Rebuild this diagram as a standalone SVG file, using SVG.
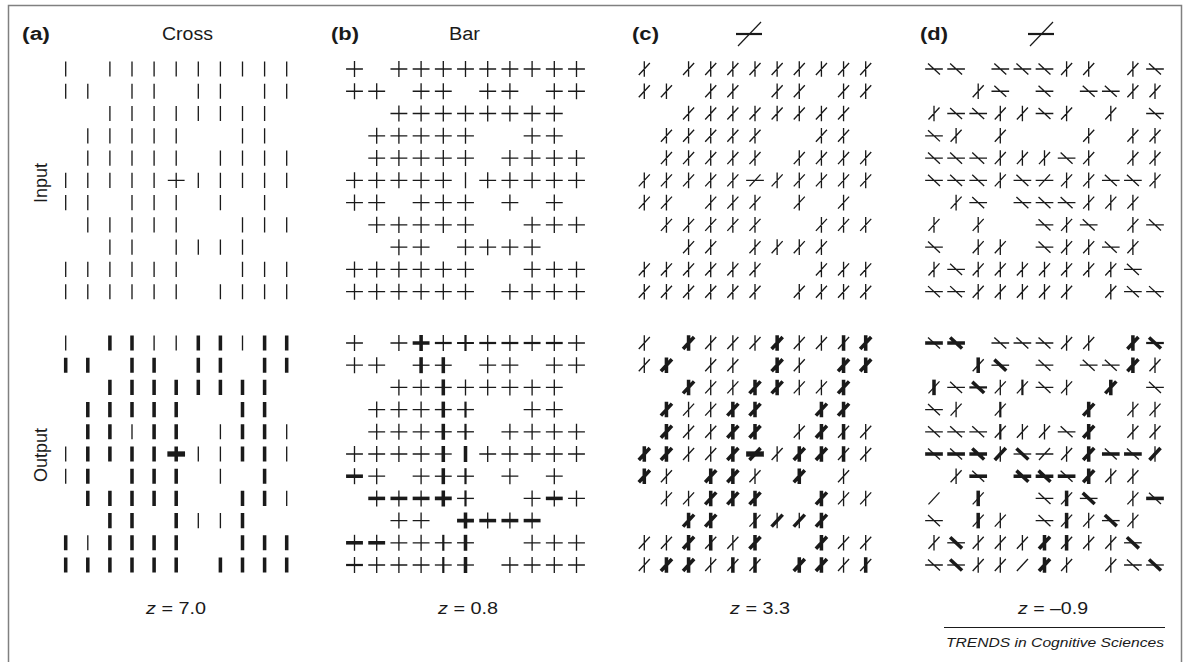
<svg xmlns="http://www.w3.org/2000/svg" width="1189" height="662" viewBox="0 0 1189 662">
<style>
.gl{fill:none;stroke:#1a1a1a;stroke-linecap:butt}
.t{stroke-width:.06}
.m{stroke-width:.1}
.k{stroke-width:.16}
.x{stroke-width:.24}
.lab{font-family:"Liberation Sans",Arial,Helvetica,sans-serif;fill:#1a1a1a}
.hd{font-size:18px}
.b{font-weight:bold}
.z{font-size:17px}
</style>
<defs>
<path id="bv" d="M0-.36V.36"/>
<path id="bh" d="M-.38 0H.38"/>
<path id="bc" d="M0-.36V.36M-.38 0H.38"/>
<path id="cv" d="M0-.35V.35"/>
<path id="ch" d="M-.4 0H.4"/>
<path id="cp" d="M-.25.27L.25-.27"/>
<path id="cq" d="M-.27-.25L.27.25"/>
<path id="V" d="M0-.35V.35M-.25.27L.25-.27"/>
<path id="H" d="M-.4 0H.4M-.27-.25L.27.25"/>
<path id="T" d="M-.4 0H.4M-.25.27L.25-.27"/>
</defs>
<rect width="1189" height="662" fill="#fff"/>
<path id="frame" d="M8.5 662V5.5H1181.5V662" fill="none" stroke="#808080" stroke-width="1.5"/>

<g id="labels" class="lab">
<text class="hd b" x="22" y="40" textLength="28" lengthAdjust="spacingAndGlyphs">(a)</text>
<text class="hd" x="162" y="40" textLength="51" lengthAdjust="spacingAndGlyphs">Cross</text>
<text class="hd b" x="331" y="40" textLength="28" lengthAdjust="spacingAndGlyphs">(b)</text>
<text class="hd" x="449" y="40" textLength="31" lengthAdjust="spacingAndGlyphs">Bar</text>
<text class="hd b" x="632" y="40" textLength="27" lengthAdjust="spacingAndGlyphs">(c)</text>
<text class="hd b" x="920" y="40" textLength="28" lengthAdjust="spacingAndGlyphs">(d)</text>
<text class="hd" transform="translate(47,183) rotate(-90)" text-anchor="middle">Input</text>
<text class="hd" transform="translate(47,455) rotate(-90)" text-anchor="middle">Output</text>
<text class="z" x="176" y="614" text-anchor="middle" textLength="60" lengthAdjust="spacingAndGlyphs"><tspan font-style="italic">z</tspan> = 7.0</text>
<text class="z" x="468" y="614" text-anchor="middle" textLength="60" lengthAdjust="spacingAndGlyphs"><tspan font-style="italic">z</tspan> = 0.8</text>
<text class="z" x="760" y="614" text-anchor="middle" textLength="60" lengthAdjust="spacingAndGlyphs"><tspan font-style="italic">z</tspan> = 3.3</text>
<text class="z" x="1053" y="614" text-anchor="middle" textLength="70" lengthAdjust="spacingAndGlyphs"><tspan font-style="italic">z</tspan> = –0.9</text>
<text x="1164" y="647" text-anchor="end" font-size="13" font-style="italic" textLength="218" lengthAdjust="spacingAndGlyphs">TRENDS in Cognitive Sciences</text>
</g>
<path id="source-rule" d="M944 627.5H1165" stroke="#1a1a1a" stroke-width="1"/>

<g id="target-c" fill="none" stroke="#1a1a1a" transform="translate(749,34)"><path d="M-13 0H13" stroke-width="2.2"/><path d="M-11 12L12-12" stroke-width="1.2"/></g>
<g id="target-d" fill="none" stroke="#1a1a1a" transform="translate(1041,34)"><path d="M-13 0H13" stroke-width="2.2"/><path d="M-11 12L12-12" stroke-width="1.2"/></g>

<!-- Panel (a) -->
<g id="panel-a-input" class="gl t" transform="translate(65.7,69) scale(22.1,22.27)">
<path d="M0-.34v.68M2-.34v.68M3-.34v.68M4-.34v.68M5-.34v.68M6-.34v.68M7-.34v.68M8-.34v.68M9-.34v.68M10-.34v.68M0 .66v.68M1 .66v.68M3 .66v.68M4 .66v.68M6 .66v.68M7 .66v.68M9 .66v.68M10 .66v.68M2 1.66v.68M3 1.66v.68M4 1.66v.68M5 1.66v.68M6 1.66v.68M7 1.66v.68M8 1.66v.68M9 1.66v.68M1 2.66v.68M2 2.66v.68M3 2.66v.68M4 2.66v.68M5 2.66v.68M8 2.66v.68M9 2.66v.68M1 3.66v.68M2 3.66v.68M3 3.66v.68M4 3.66v.68M5 3.66v.68M7 3.66v.68M8 3.66v.68M9 3.66v.68M10 3.66v.68M0 4.66v.68M1 4.66v.68M2 4.66v.68M3 4.66v.68M4 4.66v.68M5 4.66v.68M6 4.66v.68M7 4.66v.68M8 4.66v.68M9 4.66v.68M10 4.66v.68M4.62 5h.76M0 5.66v.68M1 5.66v.68M3 5.66v.68M4 5.66v.68M5 5.66v.68M7 5.66v.68M9 5.66v.68M1 6.66v.68M2 6.66v.68M3 6.66v.68M4 6.66v.68M5 6.66v.68M8 6.66v.68M9 6.66v.68M10 6.66v.68M2 7.66v.68M3 7.66v.68M5 7.66v.68M6 7.66v.68M7 7.66v.68M8 7.66v.68M0 8.66v.68M1 8.66v.68M2 8.66v.68M3 8.66v.68M4 8.66v.68M5 8.66v.68M8 8.66v.68M9 8.66v.68M10 8.66v.68M0 9.66v.68M1 9.66v.68M2 9.66v.68M3 9.66v.68M4 9.66v.68M5 9.66v.68M7 9.66v.68M8 9.66v.68M9 9.66v.68M10 9.66v.68"/>
</g>
<g id="panel-a-output" class="gl" transform="translate(65.7,343) scale(22.1,22.2)">
<path class="t" d="M0-.34v.68M4-.34v.68M5-.34v.68M8-.34v.68M3 3.66v.68M7 3.66v.68M10 3.66v.68M0 4.66v.68M6 4.66v.68M7 4.66v.68M10 4.66v.68M0 5.66v.68M7 5.66v.68M10 6.66v.68M6 7.66v.68M7 7.66v.68M1 8.66v.68"/>
<path class="k" d="M2-.34v.68M3-.34v.68M6-.34v.68M7-.34v.68M9-.34v.68M10-.34v.68M0 .66v.68M1 .66v.68M3 .66v.68M4 .66v.68M6 .66v.68M7 .66v.68M9 .66v.68M10 .66v.68M2 1.66v.68M3 1.66v.68M4 1.66v.68M5 1.66v.68M6 1.66v.68M7 1.66v.68M8 1.66v.68M9 1.66v.68M1 2.66v.68M2 2.66v.68M3 2.66v.68M4 2.66v.68M5 2.66v.68M8 2.66v.68M9 2.66v.68M1 3.66v.68M2 3.66v.68M4 3.66v.68M5 3.66v.68M8 3.66v.68M9 3.66v.68M1 4.66v.68M2 4.66v.68M3 4.66v.68M4 4.66v.68M5 4.66v.68M8 4.66v.68M9 4.66v.68M1 5.66v.68M3 5.66v.68M4 5.66v.68M5 5.66v.68M9 5.66v.68M1 6.66v.68M2 6.66v.68M3 6.66v.68M4 6.66v.68M5 6.66v.68M8 6.66v.68M9 6.66v.68M2 7.66v.68M3 7.66v.68M5 7.66v.68M8 7.66v.68M0 8.66v.68M2 8.66v.68M3 8.66v.68M4 8.66v.68M5 8.66v.68M8 8.66v.68M9 8.66v.68M10 8.66v.68M0 9.66v.68M1 9.66v.68M2 9.66v.68M3 9.66v.68M4 9.66v.68M5 9.66v.68M7 9.66v.68M8 9.66v.68M9 9.66v.68M10 9.66v.68"/>
<path class="x" d="M4.6 5h.8"/>
</g>

<!-- Panel (b) -->
<g id="panel-b-input" class="gl t" transform="translate(354.5,69) scale(22.2,22.27)">
<path d="M0-.36v.72m-.38-.36h.76M2-.36v.72m-.38-.36h.76M3-.36v.72m-.38-.36h.76M4-.36v.72m-.38-.36h.76M5-.36v.72m-.38-.36h.76M6-.36v.72m-.38-.36h.76M7-.36v.72m-.38-.36h.76M8-.36v.72m-.38-.36h.76M9-.36v.72m-.38-.36h.76M10-.36v.72m-.38-.36h.76
M0 .64v.72m-.38-.36h.76M1 .64v.72m-.38-.36h.76M3 .64v.72m-.38-.36h.76M4 .64v.72m-.38-.36h.76M6 .64v.72m-.38-.36h.76M7 .64v.72m-.38-.36h.76M9 .64v.72m-.38-.36h.76M10 .64v.72m-.38-.36h.76
M2 1.64v.72m-.38-.36h.76M3 1.64v.72m-.38-.36h.76M4 1.64v.72m-.38-.36h.76M5 1.64v.72m-.38-.36h.76M6 1.64v.72m-.38-.36h.76M7 1.64v.72m-.38-.36h.76M8 1.64v.72m-.38-.36h.76M9 1.64v.72m-.38-.36h.76
M1 2.64v.72m-.38-.36h.76M2 2.64v.72m-.38-.36h.76M3 2.64v.72m-.38-.36h.76M4 2.64v.72m-.38-.36h.76M5 2.64v.72m-.38-.36h.76M8 2.64v.72m-.38-.36h.76M9 2.64v.72m-.38-.36h.76
M1 3.64v.72m-.38-.36h.76M2 3.64v.72m-.38-.36h.76M3 3.64v.72m-.38-.36h.76M4 3.64v.72m-.38-.36h.76M5 3.64v.72m-.38-.36h.76M7 3.64v.72m-.38-.36h.76M8 3.64v.72m-.38-.36h.76M9 3.64v.72m-.38-.36h.76M10 3.64v.72m-.38-.36h.76
M0 4.64v.72m-.38-.36h.76M1 4.64v.72m-.38-.36h.76M2 4.64v.72m-.38-.36h.76M3 4.64v.72m-.38-.36h.76M4 4.64v.72m-.38-.36h.76M5 4.64v.72M6 4.64v.72m-.38-.36h.76M7 4.64v.72m-.38-.36h.76M8 4.64v.72m-.38-.36h.76M9 4.64v.72m-.38-.36h.76M10 4.64v.72m-.38-.36h.76
M0 5.64v.72m-.38-.36h.76M1 5.64v.72m-.38-.36h.76M3 5.64v.72m-.38-.36h.76M4 5.64v.72m-.38-.36h.76M5 5.64v.72m-.38-.36h.76M7 5.64v.72m-.38-.36h.76M9 5.64v.72m-.38-.36h.76
M1 6.64v.72m-.38-.36h.76M2 6.64v.72m-.38-.36h.76M3 6.64v.72m-.38-.36h.76M4 6.64v.72m-.38-.36h.76M5 6.64v.72m-.38-.36h.76M8 6.64v.72m-.38-.36h.76M9 6.64v.72m-.38-.36h.76M10 6.64v.72m-.38-.36h.76
M2 7.64v.72m-.38-.36h.76M3 7.64v.72m-.38-.36h.76M5 7.64v.72m-.38-.36h.76M6 7.64v.72m-.38-.36h.76M7 7.64v.72m-.38-.36h.76M8 7.64v.72m-.38-.36h.76
M0 8.64v.72m-.38-.36h.76M1 8.64v.72m-.38-.36h.76M2 8.64v.72m-.38-.36h.76M3 8.64v.72m-.38-.36h.76M4 8.64v.72m-.38-.36h.76M5 8.64v.72m-.38-.36h.76M8 8.64v.72m-.38-.36h.76M9 8.64v.72m-.38-.36h.76M10 8.64v.72m-.38-.36h.76
M0 9.64v.72m-.38-.36h.76M1 9.64v.72m-.38-.36h.76M2 9.64v.72m-.38-.36h.76M3 9.64v.72m-.38-.36h.76M4 9.64v.72m-.38-.36h.76M5 9.64v.72m-.38-.36h.76M7 9.64v.72m-.38-.36h.76M8 9.64v.72m-.38-.36h.76M9 9.64v.72m-.38-.36h.76M10 9.64v.72m-.38-.36h.76"/>
</g>
<g id="panel-b-output" class="gl t" transform="translate(354.5,343) scale(22.2,22.2)">
<g><use href="#bc" x="0"/><use href="#bc" x="2"/><use href="#bc" x="3" class="k"/><use href="#bh" x="4" class="m"/><use href="#bv" x="4"/><use href="#bc" x="5" class="m"/><use href="#bh" x="6" class="m"/><use href="#bv" x="6"/><use href="#bh" x="7" class="m"/><use href="#bv" x="7"/><use href="#bh" x="8" class="m"/><use href="#bv" x="8"/><use href="#bh" x="9" class="m"/><use href="#bv" x="9"/><use href="#bc" x="10"/></g>
<g transform="translate(0,1)"><use href="#bc" x="0"/><use href="#bc" x="1"/><use href="#bh" x="3"/><use href="#bv" x="3" class="k"/><use href="#bh" x="4"/><use href="#bv" x="4" class="k"/><use href="#bc" x="6"/><use href="#bc" x="7"/><use href="#bc" x="9"/><use href="#bc" x="10"/></g>
<g transform="translate(0,2)"><use href="#bc" x="2"/><use href="#bc" x="3"/><use href="#bh" x="4"/><use href="#bv" x="4" class="k"/><use href="#bc" x="5"/><use href="#bc" x="6"/><use href="#bc" x="7"/><use href="#bc" x="8"/><use href="#bc" x="9"/></g>
<g transform="translate(0,3)"><use href="#bc" x="1"/><use href="#bc" x="2"/><use href="#bc" x="3"/><use href="#bh" x="4"/><use href="#bv" x="4" class="k"/><use href="#bh" x="5"/><use href="#bv" x="5" class="m"/><use href="#bc" x="8"/><use href="#bc" x="9"/></g>
<g transform="translate(0,4)"><use href="#bc" x="1"/><use href="#bc" x="2"/><use href="#bc" x="3"/><use href="#bh" x="4"/><use href="#bv" x="4" class="k"/><use href="#bh" x="5"/><use href="#bv" x="5" class="m"/><use href="#bc" x="7"/><use href="#bc" x="8"/><use href="#bc" x="9"/><use href="#bc" x="10"/></g>
<g transform="translate(0,5)"><use href="#bc" x="0"/><use href="#bc" x="1"/><use href="#bc" x="2"/><use href="#bc" x="3"/><use href="#bh" x="4"/><use href="#bv" x="4" class="k"/><use href="#bv" x="5" class="k"/><use href="#bc" x="6"/><use href="#bc" x="7"/><use href="#bc" x="8"/><use href="#bc" x="9"/><use href="#bc" x="10"/></g>
<g transform="translate(0,6)"><use href="#bh" x="0" class="k"/><use href="#bv" x="0"/><use href="#bc" x="1"/><use href="#bc" x="3"/><use href="#bh" x="4"/><use href="#bv" x="4" class="k"/><use href="#bh" x="5"/><use href="#bv" x="5" class="m"/><use href="#bc" x="7"/><use href="#bc" x="9"/></g>
<g transform="translate(0,7)"><use href="#bh" x="1" class="k"/><use href="#bv" x="1"/><use href="#bh" x="2" class="k"/><use href="#bv" x="2"/><use href="#bh" x="3" class="k"/><use href="#bv" x="3"/><use href="#bc" x="4" class="k"/><use href="#bh" x="5"/><use href="#bv" x="5" class="m"/><use href="#bc" x="8"/><use href="#bh" x="9" class="k"/><use href="#bv" x="9"/><use href="#bc" x="10"/></g>
<g transform="translate(0,8)"><use href="#bc" x="2"/><use href="#bc" x="3"/><use href="#bc" x="5" class="k"/><use href="#bh" x="6" class="k"/><use href="#bv" x="6"/><use href="#bh" x="7" class="k"/><use href="#bv" x="7"/><use href="#bh" x="8" class="k"/><use href="#bv" x="8"/></g>
<g transform="translate(0,9)"><use href="#bh" x="0" class="k"/><use href="#bv" x="0"/><use href="#bh" x="1" class="k"/><use href="#bv" x="1"/><use href="#bc" x="2"/><use href="#bc" x="3"/><use href="#bh" x="4"/><use href="#bv" x="4" class="m"/><use href="#bh" x="5"/><use href="#bv" x="5" class="k"/><use href="#bc" x="8"/><use href="#bc" x="9"/><use href="#bc" x="10"/></g>
<g transform="translate(0,10)"><use href="#bh" x="0" class="m"/><use href="#bv" x="0"/><use href="#bc" x="1"/><use href="#bc" x="2"/><use href="#bc" x="3"/><use href="#bh" x="4"/><use href="#bv" x="4" class="m"/><use href="#bh" x="5"/><use href="#bv" x="5" class="k"/><use href="#bc" x="7"/><use href="#bc" x="8"/><use href="#bc" x="9"/><use href="#bc" x="10"/></g>
</g>

<!-- Panel (c) -->
<g id="panel-c-input" class="gl t" transform="translate(644.3,69) scale(22.14,22.27)">
<path d="M0-.35v.7m-.25-.08l.5-.54M2-.35v.7m-.25-.08l.5-.54M3-.35v.7m-.25-.08l.5-.54M4-.35v.7m-.25-.08l.5-.54M5-.35v.7m-.25-.08l.5-.54M6-.35v.7m-.25-.08l.5-.54M7-.35v.7m-.25-.08l.5-.54M8-.35v.7m-.25-.08l.5-.54M9-.35v.7m-.25-.08l.5-.54M10-.35v.7m-.25-.08l.5-.54
M0 .65v.7m-.25-.08l.5-.54M1 .65v.7m-.25-.08l.5-.54M3 .65v.7m-.25-.08l.5-.54M4 .65v.7m-.25-.08l.5-.54M6 .65v.7m-.25-.08l.5-.54M7 .65v.7m-.25-.08l.5-.54M9 .65v.7m-.25-.08l.5-.54M10 .65v.7m-.25-.08l.5-.54
M2 1.65v.7m-.25-.08l.5-.54M3 1.65v.7m-.25-.08l.5-.54M4 1.65v.7m-.25-.08l.5-.54M5 1.65v.7m-.25-.08l.5-.54M6 1.65v.7m-.25-.08l.5-.54M7 1.65v.7m-.25-.08l.5-.54M8 1.65v.7m-.25-.08l.5-.54M9 1.65v.7m-.25-.08l.5-.54
M1 2.65v.7m-.25-.08l.5-.54M2 2.65v.7m-.25-.08l.5-.54M3 2.65v.7m-.25-.08l.5-.54M4 2.65v.7m-.25-.08l.5-.54M5 2.65v.7m-.25-.08l.5-.54M8 2.65v.7m-.25-.08l.5-.54M9 2.65v.7m-.25-.08l.5-.54
M1 3.65v.7m-.25-.08l.5-.54M2 3.65v.7m-.25-.08l.5-.54M3 3.65v.7m-.25-.08l.5-.54M4 3.65v.7m-.25-.08l.5-.54M5 3.65v.7m-.25-.08l.5-.54M7 3.65v.7m-.25-.08l.5-.54M8 3.65v.7m-.25-.08l.5-.54M9 3.65v.7m-.25-.08l.5-.54M10 3.65v.7m-.25-.08l.5-.54
M0 4.65v.7m-.25-.08l.5-.54M1 4.65v.7m-.25-.08l.5-.54M2 4.65v.7m-.25-.08l.5-.54M3 4.65v.7m-.25-.08l.5-.54M4 4.65v.7m-.25-.08l.5-.54M4.6 5h.8M4.75 5.27l.5-.54M6 4.65v.7m-.25-.08l.5-.54M7 4.65v.7m-.25-.08l.5-.54M8 4.65v.7m-.25-.08l.5-.54M9 4.65v.7m-.25-.08l.5-.54M10 4.65v.7m-.25-.08l.5-.54
M0 5.65v.7m-.25-.08l.5-.54M1 5.65v.7m-.25-.08l.5-.54M3 5.65v.7m-.25-.08l.5-.54M4 5.65v.7m-.25-.08l.5-.54M5 5.65v.7m-.25-.08l.5-.54M7 5.65v.7m-.25-.08l.5-.54M9 5.65v.7m-.25-.08l.5-.54
M1 6.65v.7m-.25-.08l.5-.54M2 6.65v.7m-.25-.08l.5-.54M3 6.65v.7m-.25-.08l.5-.54M4 6.65v.7m-.25-.08l.5-.54M5 6.65v.7m-.25-.08l.5-.54M8 6.65v.7m-.25-.08l.5-.54M9 6.65v.7m-.25-.08l.5-.54M10 6.65v.7m-.25-.08l.5-.54
M2 7.65v.7m-.25-.08l.5-.54M3 7.65v.7m-.25-.08l.5-.54M5 7.65v.7m-.25-.08l.5-.54M6 7.65v.7m-.25-.08l.5-.54M7 7.65v.7m-.25-.08l.5-.54M8 7.65v.7m-.25-.08l.5-.54
M0 8.65v.7m-.25-.08l.5-.54M1 8.65v.7m-.25-.08l.5-.54M2 8.65v.7m-.25-.08l.5-.54M3 8.65v.7m-.25-.08l.5-.54M4 8.65v.7m-.25-.08l.5-.54M5 8.65v.7m-.25-.08l.5-.54M8 8.65v.7m-.25-.08l.5-.54M9 8.65v.7m-.25-.08l.5-.54M10 8.65v.7m-.25-.08l.5-.54
M0 9.65v.7m-.25-.08l.5-.54M1 9.65v.7m-.25-.08l.5-.54M2 9.65v.7m-.25-.08l.5-.54M3 9.65v.7m-.25-.08l.5-.54M4 9.65v.7m-.25-.08l.5-.54M5 9.65v.7m-.25-.08l.5-.54M7 9.65v.7m-.25-.08l.5-.54M8 9.65v.7m-.25-.08l.5-.54M9 9.65v.7m-.25-.08l.5-.54M10 9.65v.7m-.25-.08l.5-.54"/>
</g>
<g id="panel-c-output" class="gl t" transform="translate(644.3,343) scale(22.14,22.2)">
<g><use href="#V" x="0"/><use href="#V" x="2" class="k"/><use href="#V" x="3"/><use href="#V" x="4"/><use href="#V" x="5"/><use href="#V" x="6" class="k"/><use href="#V" x="7"/><use href="#V" x="8"/><use href="#cv" x="9" class="k"/><use href="#cp" x="9"/><use href="#V" x="10" class="k"/></g>
<g transform="translate(0,1)"><use href="#V" x="0"/><use href="#V" x="1" class="k"/><use href="#V" x="3"/><use href="#V" x="4"/><use href="#V" x="6" class="k"/><use href="#V" x="7"/><use href="#V" x="9" class="k"/><use href="#V" x="10" class="k"/></g>
<g transform="translate(0,2)"><use href="#V" x="2" class="k"/><use href="#V" x="3"/><use href="#V" x="4"/><use href="#V" x="5" class="k"/><use href="#V" x="6" class="k"/><use href="#V" x="7"/><use href="#V" x="8"/><use href="#V" x="9" class="k"/></g>
<g transform="translate(0,3)"><use href="#V" x="1" class="k"/><use href="#V" x="2"/><use href="#V" x="3"/><use href="#V" x="4" class="k"/><use href="#V" x="5" class="k"/><use href="#V" x="8" class="k"/><use href="#V" x="9" class="k"/></g>
<g transform="translate(0,4)"><use href="#V" x="1" class="k"/><use href="#V" x="2"/><use href="#V" x="3"/><use href="#V" x="4" class="k"/><use href="#V" x="5" class="k"/><use href="#V" x="7"/><use href="#V" x="8" class="k"/><use href="#cv" x="9" class="k"/><use href="#cp" x="9"/><use href="#V" x="10"/></g>
<g transform="translate(0,5)"><use href="#V" x="0" class="k"/><use href="#V" x="1" class="k"/><use href="#V" x="2"/><use href="#V" x="3"/><use href="#V" x="4" class="k"/><use href="#ch" x="5" class="x"/><use href="#cp" x="5" class="k"/><use href="#V" x="6"/><use href="#V" x="7" class="k"/><use href="#V" x="8" class="k"/><use href="#cv" x="9" class="k"/><use href="#cp" x="9"/><use href="#V" x="10"/></g>
<g transform="translate(0,6)"><use href="#V" x="0" class="k"/><use href="#V" x="1"/><use href="#V" x="3" class="k"/><use href="#V" x="4" class="k"/><use href="#V" x="5"/><use href="#V" x="7" class="k"/><use href="#V" x="9"/></g>
<g transform="translate(0,7)"><use href="#V" x="1"/><use href="#V" x="2"/><use href="#V" x="3" class="k"/><use href="#V" x="4" class="k"/><use href="#V" x="5" class="k"/><use href="#V" x="8" class="k"/><use href="#V" x="9"/><use href="#V" x="10"/></g>
<g transform="translate(0,8)"><use href="#V" x="2" class="k"/><use href="#V" x="3" class="k"/><use href="#cv" x="5" class="k"/><use href="#cp" x="5"/><use href="#cv" x="6"/><use href="#cp" x="6" class="k"/><use href="#cv" x="7"/><use href="#cp" x="7" class="k"/><use href="#V" x="8" class="k"/></g>
<g transform="translate(0,9)"><use href="#V" x="0"/><use href="#V" x="1"/><use href="#V" x="2" class="k"/><use href="#cv" x="3" class="k"/><use href="#cp" x="3"/><use href="#V" x="4"/><use href="#V" x="5" class="k"/><use href="#V" x="8" class="k"/><use href="#V" x="9"/><use href="#V" x="10"/></g>
<g transform="translate(0,10)"><use href="#V" x="0"/><use href="#V" x="1" class="k"/><use href="#V" x="2" class="k"/><use href="#V" x="3"/><use href="#cv" x="4" class="k"/><use href="#cp" x="4"/><use href="#cv" x="5" class="k"/><use href="#cp" x="5"/><use href="#V" x="7" class="k"/><use href="#V" x="8" class="k"/><use href="#V" x="9"/><use href="#cv" x="10" class="k"/><use href="#cp" x="10"/></g>
</g>

<!-- Panel (d) -->
<g id="panel-d-input" class="gl t" transform="translate(934,69) scale(22.1,22.27)">
<path d="M-.4 0h.8m-.67-.25l.54.5M.6 0h.8m-.67-.25l.54.5M2.6 0h.8m-.67-.25l.54.5M3.6 0h.8m-.67-.25l.54.5M4.6 0h.8m-.67-.25l.54.5M6-.35v.7m-.25-.08l.5-.54M7-.35v.7m-.25-.08l.5-.54M9-.35v.7m-.25-.08l.5-.54M9.6 0h.8m-.67-.25l.54.5
M2 .65v.7m-.25-.08l.5-.54M2.6 1h.8m-.67-.25l.54.5M4.6 1h.8m-.67-.25l.54.5M6.6 1h.8m-.67-.25l.54.5M7.6 1h.8m-.67-.25l.54.5M9 .65v.7m-.25-.08l.5-.54M10 .65v.7m-.25-.08l.5-.54
M0 1.65v.7m-.25-.08l.5-.54M.6 2h.8m-.67-.25l.54.5M1.6 2h.8m-.67-.25l.54.5M3 1.65v.7m-.25-.08l.5-.54M4 1.65v.7m-.25-.08l.5-.54M4.6 2h.8m-.67-.25l.54.5M6 1.65v.7m-.25-.08l.5-.54M8 1.65v.7m-.25-.08l.5-.54M9.6 2h.8m-.67-.25l.54.5
M-.4 3h.8m-.67-.25l.54.5M1 2.65v.7m-.25-.08l.5-.54M3 2.65v.7m-.25-.08l.5-.54M7 2.65v.7m-.25-.08l.5-.54M9 2.65v.7m-.25-.08l.5-.54M10 2.65v.7m-.25-.08l.5-.54
M-.4 4h.8m-.67-.25l.54.5M.6 4h.8m-.67-.25l.54.5M1.6 4h.8m-.67-.25l.54.5M3 3.65v.7m-.25-.08l.5-.54M4 3.65v.7m-.25-.08l.5-.54M5 3.65v.7m-.25-.08l.5-.54M5.6 4h.8m-.67-.25l.54.5M7 3.65v.7m-.25-.08l.5-.54M9 3.65v.7m-.25-.08l.5-.54M10 3.65v.7m-.25-.08l.5-.54
M-.4 5h.8m-.67-.25l.54.5M.6 5h.8m-.67-.25l.54.5M1.6 5h.8m-.67-.25l.54.5M3 4.65v.7m-.25-.08l.5-.54M3.6 5h.8m-.67-.25l.54.5M4.6 5h.8m-.65.27l.5-.54M6 4.65v.7m-.25-.08l.5-.54M7 4.65v.7m-.25-.08l.5-.54M7.6 5h.8m-.67-.25l.54.5M8.6 5h.8m-.67-.25l.54.5M10 4.65v.7m-.25-.08l.5-.54
M1 5.65v.7m-.25-.08l.5-.54M1.6 6h.8m-.67-.25l.54.5M3.6 6h.8m-.67-.25l.54.5M4.6 6h.8m-.67-.25l.54.5M5.6 6h.8m-.67-.25l.54.5M7 5.65v.7m-.25-.08l.5-.54M8 5.65v.7m-.25-.08l.5-.54M9 5.65v.7m-.25-.08l.5-.54
M0 6.65v.7m-.25-.08l.5-.54M2 6.65v.7m-.25-.08l.5-.54M4.6 7h.8m-.67-.25l.54.5M6 6.65v.7m-.25-.08l.5-.54M6.6 7h.8m-.67-.25l.54.5M9 6.65v.7m-.25-.08l.5-.54M9.6 7h.8m-.67-.25l.54.5
M-.4 8h.8m-.67-.25l.54.5M2 7.65v.7m-.25-.08l.5-.54M3 7.65v.7m-.25-.08l.5-.54M4.6 8h.8m-.67-.25l.54.5M6 7.65v.7m-.25-.08l.5-.54M7 7.65v.7m-.25-.08l.5-.54M7.6 8h.8m-.67-.25l.54.5M9 7.65v.7m-.25-.08l.5-.54
M0 8.65v.7m-.25-.08l.5-.54M.6 9h.8m-.67-.25l.54.5M2 8.65v.7m-.25-.08l.5-.54M3 8.65v.7m-.25-.08l.5-.54M4 8.65v.7m-.25-.08l.5-.54M5 8.65v.7m-.25-.08l.5-.54M6 8.65v.7m-.25-.08l.5-.54M7 8.65v.7m-.25-.08l.5-.54M8 8.65v.7m-.25-.08l.5-.54M8.6 9h.8m-.67-.25l.54.5
M-.4 10h.8m-.67-.25l.54.5M.6 10h.8m-.67-.25l.54.5M2 9.65v.7m-.25-.08l.5-.54M3 9.65v.7m-.25-.08l.5-.54M4 9.65v.7m-.25-.08l.5-.54M5 9.65v.7m-.25-.08l.5-.54M6 9.65v.7m-.25-.08l.5-.54M8 9.65v.7m-.25-.08l.5-.54M8.6 10h.8m-.67-.25l.54.5M9.6 10h.8m-.67-.25l.54.5"/>
</g>
<g id="panel-d-output" class="gl t" transform="translate(934,343) scale(22.1,22.2)">
<g><use href="#ch" x="0" class="k"/><use href="#cq" x="0"/><use href="#H" x="1" class="k"/><use href="#H" x="3"/><use href="#H" x="4"/><use href="#H" x="5"/><use href="#V" x="6"/><use href="#V" x="7"/><use href="#V" x="9" class="k"/><use href="#ch" x="10" class="m"/><use href="#cq" x="10" class="k"/></g>
<g transform="translate(0,1)"><use href="#cv" x="2" class="k"/><use href="#cp" x="2"/><use href="#ch" x="3"/><use href="#cq" x="3" class="k"/><use href="#H" x="5"/><use href="#H" x="7"/><use href="#H" x="8"/><use href="#V" x="9" class="k"/><use href="#V" x="10"/></g>
<g transform="translate(0,2)"><use href="#cv" x="0" class="k"/><use href="#cp" x="0"/><use href="#H" x="1"/><use href="#ch" x="2" class="m"/><use href="#cq" x="2" class="k"/><use href="#V" x="3"/><use href="#cv" x="4" class="m"/><use href="#cp" x="4"/><use href="#H" x="5"/><use href="#V" x="6"/><use href="#V" x="8" class="k"/><use href="#H" x="10"/></g>
<g transform="translate(0,3)"><use href="#H" x="0"/><use href="#V" x="1"/><use href="#cv" x="3" class="m"/><use href="#cp" x="3"/><use href="#V" x="7" class="k"/><use href="#V" x="9"/><use href="#V" x="10"/></g>
<g transform="translate(0,4)"><use href="#H" x="0"/><use href="#H" x="1"/><use href="#H" x="2"/><use href="#cv" x="3" class="m"/><use href="#cp" x="3"/><use href="#V" x="4"/><use href="#V" x="5"/><use href="#H" x="6"/><use href="#V" x="7" class="k"/><use href="#V" x="9"/><use href="#V" x="10"/></g>
<g transform="translate(0,5)"><use href="#ch" x="0" class="k"/><use href="#cq" x="0"/><use href="#ch" x="1" class="k"/><use href="#cq" x="1"/><use href="#H" x="2" class="k"/><use href="#cv" x="3"/><use href="#cp" x="3" class="k"/><use href="#ch" x="4"/><use href="#cq" x="4" class="k"/><use href="#T" x="5"/><use href="#V" x="6"/><use href="#V" x="7" class="k"/><use href="#ch" x="8" class="k"/><use href="#cq" x="8"/><use href="#ch" x="9" class="k"/><use href="#cq" x="9"/><use href="#cv" x="10"/><use href="#cp" x="10" class="k"/></g>
<g transform="translate(0,6)"><use href="#V" x="1"/><use href="#ch" x="2" class="k"/><use href="#cq" x="2"/><use href="#H" x="4" class="k"/><use href="#H" x="5" class="k"/><use href="#ch" x="6" class="k"/><use href="#cq" x="6"/><use href="#V" x="7" class="k"/><use href="#V" x="8"/><use href="#V" x="9"/></g>
<g transform="translate(0,7)"><use href="#cp" x="0"/><use href="#cv" x="2" class="k"/><use href="#cp" x="2"/><use href="#H" x="5"/><use href="#cv" x="6" class="k"/><use href="#cp" x="6"/><use href="#ch" x="7"/><use href="#cq" x="7" class="k"/><use href="#V" x="9"/><use href="#ch" x="10" class="k"/><use href="#cq" x="10"/></g>
<g transform="translate(0,8)"><use href="#H" x="0"/><use href="#cv" x="2" class="k"/><use href="#cp" x="2"/><use href="#V" x="3"/><use href="#H" x="5"/><use href="#cv" x="6" class="k"/><use href="#cp" x="6"/><use href="#V" x="7"/><use href="#ch" x="8"/><use href="#cq" x="8" class="k"/><use href="#V" x="9"/></g>
<g transform="translate(0,9)"><use href="#V" x="0"/><use href="#ch" x="1"/><use href="#cq" x="1" class="k"/><use href="#V" x="2"/><use href="#V" x="3"/><use href="#V" x="4"/><use href="#V" x="5" class="k"/><use href="#cv" x="6" class="k"/><use href="#cp" x="6"/><use href="#V" x="7"/><use href="#V" x="8"/><use href="#ch" x="9"/><use href="#cq" x="9" class="k"/></g>
<g transform="translate(0,10)"><use href="#H" x="0"/><use href="#ch" x="1"/><use href="#cq" x="1" class="k"/><use href="#V" x="2"/><use href="#V" x="3"/><use href="#cp" x="4"/><use href="#V" x="5" class="k"/><use href="#V" x="6"/><use href="#V" x="8"/><use href="#H" x="9"/><use href="#ch" x="10"/><use href="#cq" x="10" class="k"/></g>
</g>
</svg>
